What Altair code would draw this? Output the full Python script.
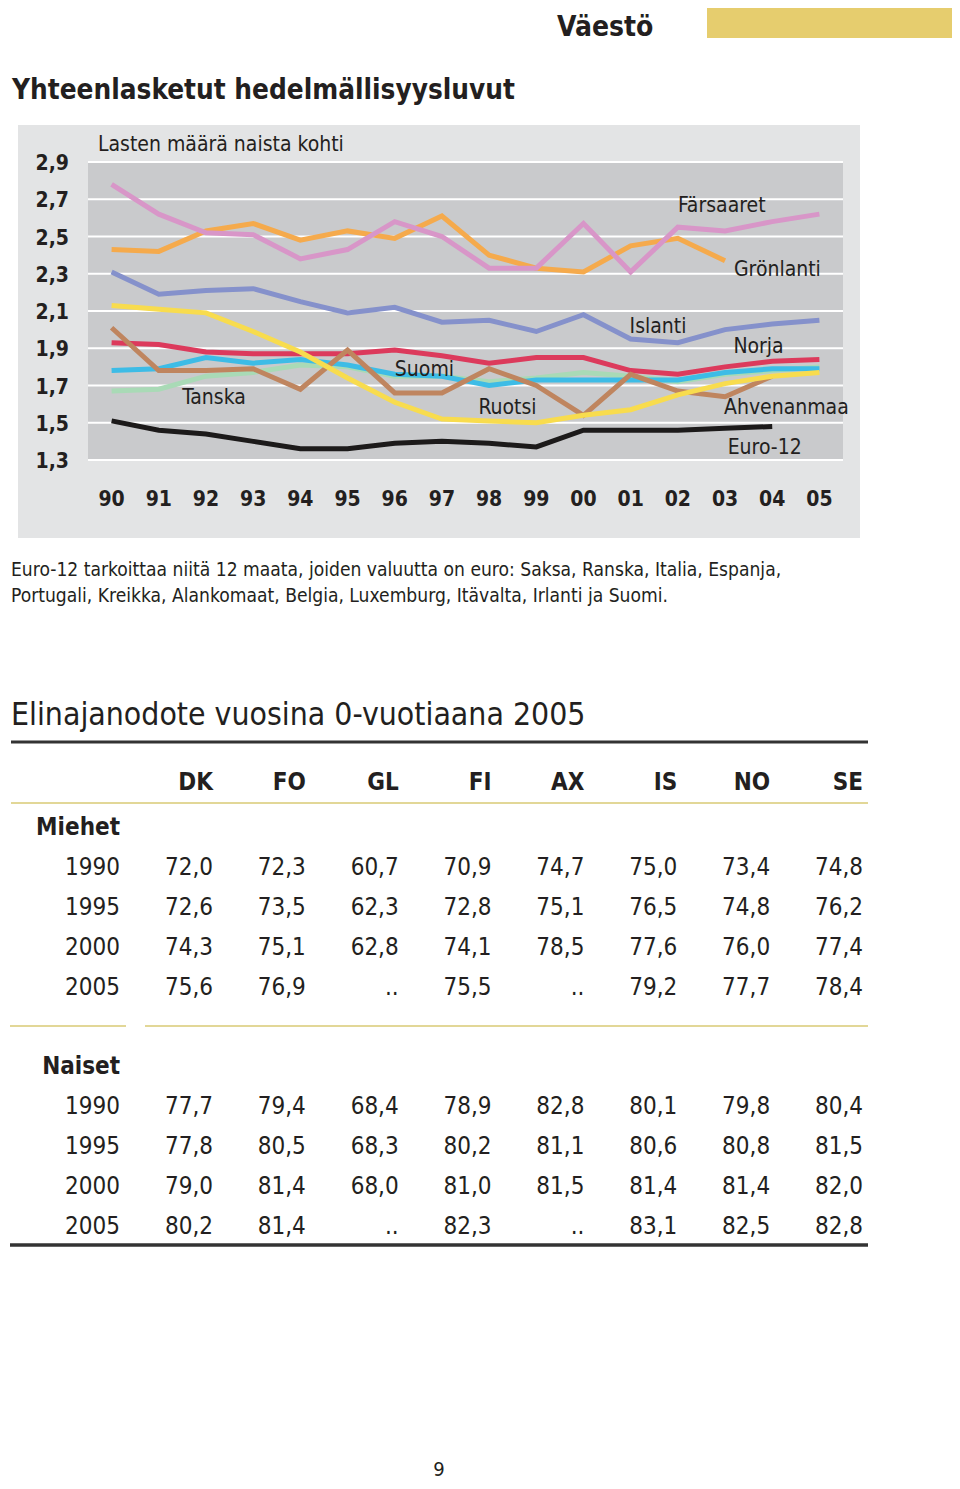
import altair as alt
import pandas as pd

# ---------------- data ----------------
years = list(range(1990, 2006))
x_labels = ["90", "91", "92", "93", "94", "95", "96", "97", "98", "99",
            "00", "01", "02", "03", "04", "05"]
y_ticks = [1.3, 1.5, 1.7, 1.9, 2.1, 2.3, 2.5, 2.7, 2.9]
y_labels = ["1,3", "1,5", "1,7", "1,9", "2,1", "2,3", "2,5", "2,7", "2,9"]

farsaaret = [2.78, 2.62, 2.52, 2.51, 2.38, 2.43, 2.58, 2.50, 2.33, 2.33, 2.57, 2.31, 2.55, 2.53, 2.58, 2.62]
gronlanti = [2.43, 2.42, 2.53, 2.57, 2.48, 2.53, 2.49, 2.61, 2.40, 2.33, 2.31, 2.45, 2.49, 2.37, None, None]
islanti = [2.31, 2.19, 2.21, 2.22, 2.15, 2.09, 2.12, 2.04, 2.05, 1.99, 2.08, 1.95, 1.93, 2.00, 2.03, 2.05]
norja = [1.93, 1.92, 1.88, 1.87, 1.87, 1.87, 1.89, 1.86, 1.82, 1.85, 1.85, 1.78, 1.76, 1.80, 1.83, 1.84]
suomi = [1.78, 1.79, 1.85, 1.82, 1.84, 1.81, 1.76, 1.75, 1.70, 1.73, 1.73, 1.73, 1.73, 1.77, 1.79, 1.79]
tanska = [1.67, 1.68, 1.75, 1.77, 1.81, 1.80, 1.75, 1.75, 1.72, 1.74, 1.77, 1.75, 1.72, 1.76, 1.78, 1.80]
ahvenanmaa = [2.01, 1.78, 1.78, 1.79, 1.68, 1.89, 1.66, 1.66, 1.79, 1.70, 1.54, 1.76, 1.67, 1.64, 1.75, None]
ruotsi = [2.13, 2.11, 2.09, 1.99, 1.88, 1.74, 1.61, 1.52, 1.51, 1.50, 1.54, 1.57, 1.65, 1.71, 1.75, 1.77]
euro12 = [1.51, 1.46, 1.44, 1.40, 1.36, 1.36, 1.39, 1.40, 1.39, 1.37, 1.46, 1.46, 1.46, 1.47, 1.48, None]

ann_text = ["Färsaaret", "Grönlanti", "Islanti", "Norja", "Suomi", "Tanska", "Ruotsi", "Ahvenanmaa", "Euro-12"]
ann_year = [2002.93, 2004.11, 2001.58, 2003.71, 1996.63, 1992.17, 1998.39, 2004.30, 2003.84]
ann_val = [2.676, 2.332, 2.026, 1.918, 1.795, 1.644, 1.590, 1.590, 1.375]

table_cols = ["DK", "FO", "GL", "FI", "AX", "IS", "NO", "SE"]
table_years = ["1990", "1995", "2000", "2005"]
miehet = [
    [72.0, 72.3, 60.7, 70.9, 74.7, 75.0, 73.4, 74.8],
    [72.6, 73.5, 62.3, 72.8, 75.1, 76.5, 74.8, 76.2],
    [74.3, 75.1, 62.8, 74.1, 78.5, 77.6, 76.0, 77.4],
    [75.6, 76.9, None, 75.5, None, 79.2, 77.7, 78.4],
]
naiset = [
    [77.7, 79.4, 68.4, 78.9, 82.8, 80.1, 79.8, 80.4],
    [77.8, 80.5, 68.3, 80.2, 81.1, 80.6, 80.8, 81.5],
    [79.0, 81.4, 68.0, 81.0, 81.5, 81.4, 81.4, 82.0],
    [80.2, 81.4, None, 82.3, None, 83.1, 82.5, 82.8],
]

# ---------------- style ----------------
FONT = "Liberation Sans Narrow, DejaVu Sans Condensed, Liberation Sans, sans-serif"
TXT = "#231f20"
DY = 2

XS = alt.Scale(domain=[1989.5, 2005.5], range=[80, 835], nice=False, zero=False)
YS = alt.Scale(domain=[1.3, 2.9], range=[452, 154], nice=False, zero=False)

one = pd.DataFrame({"a": [0]})
layers = []


def rect(x, x2, y, y2, color):
    return alt.Chart(one).mark_rect(color=color).encode(
        x=alt.value(x), x2=alt.value(x2), y=alt.value(y), y2=alt.value(y2))


def label(text, x, y, size, bold=False, align="left"):
    return alt.Chart(one).mark_text(
        text=text, font=FONT, fontSize=size, fontWeight="bold" if bold else "normal",
        align=align, baseline="middle", dy=DY, color=TXT).encode(x=alt.value(x), y=alt.value(y))


def hrule(x, x2, y, color, w):
    return alt.Chart(one).mark_rule(color=color, strokeWidth=w).encode(
        x=alt.value(x), x2=alt.value(x2), y=alt.value(y))


# header
layers.append(rect(699, 945, 0, 30, "#e6cd6e"))
layers.append(label("Väestö", 549, 18, 28, bold=True))
layers.append(label("Yhteenlasketut hedelmällisyysluvut", 4, 81, 27.7, bold=True))

# chart panels
layers.append(rect(10, 852, 117, 530, "#e3e4e5"))
layers.append(alt.Chart(one).mark_rect(color="#c9cacc").encode(
    x=alt.X(datum=1989.5, type="quantitative", scale=XS, axis=None), x2=alt.X2(datum=2005.5),
    y=alt.Y(datum=1.3, type="quantitative", scale=YS, axis=None), y2=alt.Y2(datum=2.9)))

ydf = pd.DataFrame({"v": y_ticks, "lab": y_labels})
layers.append(alt.Chart(ydf).mark_rule(color="white", strokeWidth=2.2).encode(
    y=alt.Y("v:Q", scale=YS, axis=None),
    x=alt.X(datum=1989.5, type="quantitative", scale=XS, axis=None), x2=alt.X2(datum=2005.5)))
layers.append(alt.Chart(ydf).mark_text(
    font=FONT, fontSize=21, fontWeight="bold", align="right", baseline="middle", dy=DY, color=TXT).encode(
    y=alt.Y("v:Q", scale=YS, axis=None), x=alt.value(61), text="lab:N"))

xdf = pd.DataFrame({"year": years, "lab": x_labels})
layers.append(alt.Chart(xdf).mark_text(
    font=FONT, fontSize=21, fontWeight="bold", align="center", baseline="middle", dy=DY, color=TXT).encode(
    x=alt.X("year:Q", scale=XS, axis=None), y=alt.value(490), text="lab:N"))

layers.append(label("Lasten määrä naista kohti", 90, 135, 21))

series = [
    (tanska, "#a9dab6"),
    (suomi, "#3dbce6"),
    (norja, "#dc3a5c"),
    (ahvenanmaa, "#bf855f"),
    (ruotsi, "#f8dc4e"),
    (islanti, "#8591cb"),
    (gronlanti, "#f5aa4c"),
    (farsaaret, "#d896c8"),
    (euro12, "#1c1a1a"),
]
for vals, col in series:
    df = pd.DataFrame({"year": years, "v": vals}).dropna()
    layers.append(alt.Chart(df).mark_line(color=col, strokeWidth=5).encode(
        x=alt.X("year:Q", scale=XS, axis=None), y=alt.Y("v:Q", scale=YS, axis=None)))

adf = pd.DataFrame({"t": ann_text, "year": ann_year, "v": ann_val})
layers.append(alt.Chart(adf).mark_text(
    font=FONT, fontSize=21, align="center", baseline="middle", dy=DY, color=TXT).encode(
    x=alt.X("year:Q", scale=XS, axis=None), y=alt.Y("v:Q", scale=YS, axis=None), text="t:N"))

# caption
layers.append(label("Euro-12 tarkoittaa niitä 12 maata, joiden valuutta on euro: Saksa, Ranska, Italia, Espanja,", 3, 560, 19.1))
layers.append(label("Portugali, Kreikka, Alankomaat, Belgia, Luxemburg, Itävalta, Irlanti ja Suomi.", 3, 586, 19.1))

# ---------------- table ----------------
layers.append(label("Elinajanodote vuosina 0-vuotiaana 2005", 3, 705, 31.7))
layers.append(hrule(3, 860, 734, "#333333", 3))
layers.append(hrule(3, 860, 795, "#e2d797", 2))
layers.append(hrule(2, 118, 1018, "#e2d797", 2))
layers.append(hrule(137, 860, 1018, "#e2d797", 2))
layers.append(hrule(2, 860, 1237, "#333333", 3.5))

CS = alt.Scale(domain=table_cols, range=[205, 855], type="point", padding=0)
row_keys = ["Miehet", "m1990", "m1995", "m2000", "m2005", "gap",
            "Naiset", "n1990", "n1995", "n2000", "n2005"]
RS = alt.Scale(domain=row_keys, range=[818, 1217], type="point", padding=0)

hdf = pd.DataFrame({"col": table_cols})
layers.append(alt.Chart(hdf).mark_text(
    font=FONT, fontSize=24, fontWeight="bold", align="right", baseline="middle", dy=DY, color=TXT).encode(
    x=alt.X("col:N", scale=CS, axis=None), y=alt.value(773), text="col:N"))


def fmt(v):
    return ".." if v is None else f"{v:.1f}".replace(".", ",")


cells = []
for prefix, block in (("m", miehet), ("n", naiset)):
    for yr, rowvals in zip(table_years, block):
        for c, v in zip(table_cols, rowvals):
            cells.append({"row": prefix + yr, "col": c, "t": fmt(v)})
cdf = pd.DataFrame(cells)
layers.append(alt.Chart(cdf).mark_text(
    font=FONT, fontSize=24, align="right", baseline="middle", dy=DY, color=TXT).encode(
    x=alt.X("col:N", scale=CS, axis=None), y=alt.Y("row:N", scale=RS, axis=None), text="t:N"))

rl = [{"row": p + yr, "t": yr} for p in ("m", "n") for yr in table_years]
layers.append(alt.Chart(pd.DataFrame(rl)).mark_text(
    font=FONT, fontSize=24, align="right", baseline="middle", dy=DY, color=TXT).encode(
    x=alt.value(112), y=alt.Y("row:N", scale=RS, axis=None), text="t:N"))
gl = pd.DataFrame({"row": ["Miehet", "Naiset"], "t": ["Miehet", "Naiset"]})
layers.append(alt.Chart(gl).mark_text(
    font=FONT, fontSize=24, fontWeight="bold", align="right", baseline="middle", dy=DY, color=TXT).encode(
    x=alt.value(112), y=alt.Y("row:N", scale=RS, axis=None), text="t:N"))

layers.append(label("9", 431, 1460, 20, align="center"))

chart = alt.layer(*layers).resolve_scale(x="independent", y="independent").properties(
    width=944, height=1473, padding=0, autosize="none", background="white"
).configure_view(stroke=None)

chart.save("out.html", embed_options={"renderer": "svg", "actions": False})
